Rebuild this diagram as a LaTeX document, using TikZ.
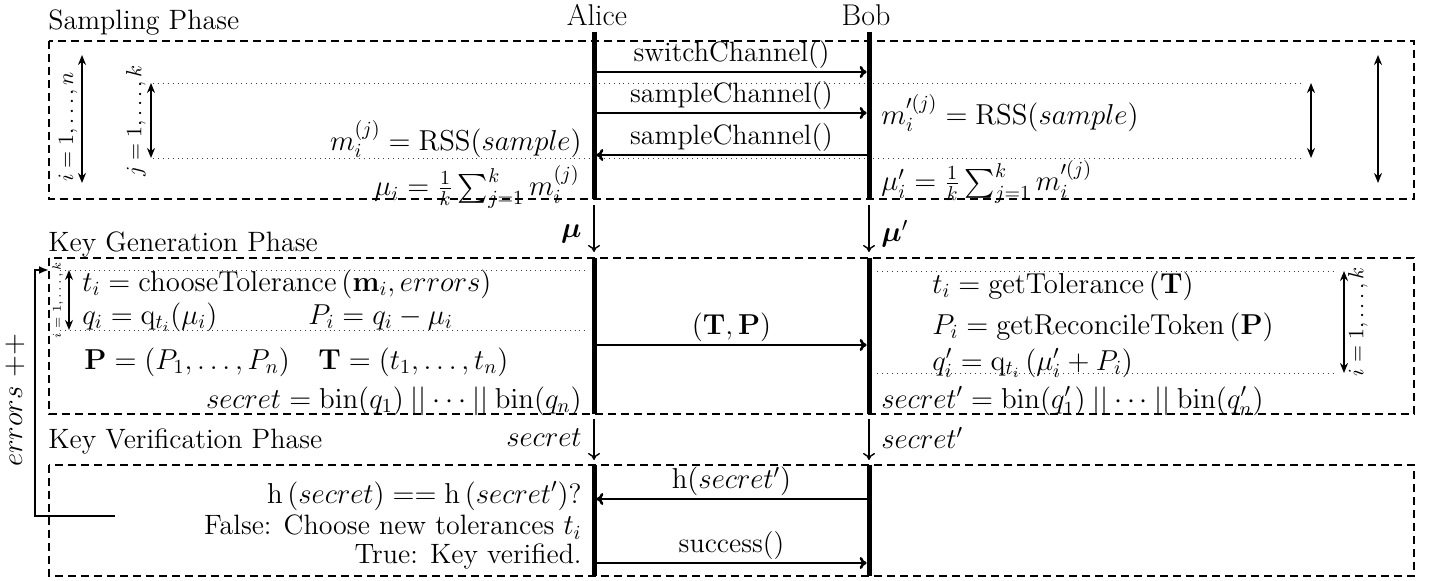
\documentclass[tikz,border=0pt]{standalone}
\usepackage{amsmath}
\usepackage{bm}
\usetikzlibrary{arrows.meta}
\begin{document}
\begin{tikzpicture}[x=0.5pt,y=-0.5pt,
  every node/.style={font=\fontsize{14}{16}\selectfont, inner sep=0pt},
  actor/.style={font=\fontsize{15}{17}\selectfont, anchor=base},
  phaselabel/.style={anchor=base west},
  phasebox/.style={draw, line width=1pt, dash pattern=on 4pt off 2.5pt},
  lifeline/.style={line width=2.5pt},
  msg/.style={line width=1.3pt, -{To[length=3.5pt,width=6pt]}, shorten >=1.2pt},
  flow/.style={line width=0.7pt, -{To[length=3.5pt,width=6pt]}},
  span/.style={line width=1pt, {Stealth[length=5pt,width=4pt]}-{Stealth[length=5pt,width=4pt]}},
  guide/.style={dotted, line width=0.45pt, black!75},
  idxlabel/.style={rotate=90, font=\fontsize{10.5}{12}\selectfont},
  tinylabel/.style={rotate=90, font=\fontsize{6}{7}\selectfont},
  loopline/.style={line width=1pt, -{Latex[length=5pt,width=4pt]}}
]
\useasboundingbox (0,0) rectangle (1429,581);

% ---------- actors ----------
\node[actor] (alice) at (597,26) {Alice};
\node[actor] (bob) at (866,26) {Bob};

% ---------- phase labels ----------
\node[phaselabel] (ph1) at (48,30) {Sampling Phase};
\node[phaselabel] (ph2) at (48,252) {Key Generation Phase};
\node[phaselabel] (ph3) at (48,449) {Key Verification Phase};

% ---------- phase boxes ----------
\coordinate (b1nw) at (49,41);  \coordinate (b1se) at (1414,199);
\coordinate (b2nw) at (49,258); \coordinate (b2se) at (1414,414);
\coordinate (b3nw) at (49,465); \coordinate (b3se) at (1414,576);
\draw[phasebox] (b1nw) rectangle (b1se);
\draw[phasebox] (b2nw) rectangle (b2se);
\draw[phasebox] (b3nw) rectangle (b3se);

% ---------- dotted guides ----------
\coordinate (g1l) at (153,83);  \coordinate (g1r) at (1303,83);
\coordinate (g2l) at (153,158); \coordinate (g2r) at (1303,158);
\draw[guide] (g1l) -- (g1r);
\draw[guide] (g2l) -- (g2r);
\coordinate (g3l) at (60,270);  \coordinate (g3r) at (588,270);
\coordinate (g4l) at (60,330);  \coordinate (g4r) at (588,330);
\draw[guide] (g3l) -- (g3r);
\draw[guide] (g4l) -- (g4r);
\coordinate (g5l) at (877,271); \coordinate (g5r) at (1336,271);
\coordinate (g6l) at (877,373); \coordinate (g6r) at (1336,373);
\draw[guide] (g5l) -- (g5r);
\draw[guide] (g6l) -- (g6r);

% ---------- index spans ----------
\coordinate (s1t) at (82,55);   \coordinate (s1b) at (82,183);
\draw[span] (s1t) -- (s1b);
\node[idxlabel] (s1lab) at (68,127) {$i = 1,\ldots,n$};
\coordinate (s2t) at (151,83);  \coordinate (s2b) at (151,158);
\draw[span] (s2t) -- (s2b);
\node[idxlabel] (s2lab) at (136,121) {$j = 1,\ldots,k$};
\coordinate (s3t) at (1311,83); \coordinate (s3b) at (1311,158);
\draw[span] (s3t) -- (s3b);
\coordinate (s4t) at (1378,55); \coordinate (s4b) at (1378,183);
\draw[span] (s4t) -- (s4b);
\coordinate (s5t) at (69,270);  \coordinate (s5b) at (69,330);
\draw[span] (s5t) -- (s5b);
\node[tinylabel] (s5lab) at (58,300) {$i = 1,\ldots,k$};
\coordinate (s6t) at (1344,271); \coordinate (s6b) at (1344,373);
\draw[span] (s6t) -- (s6b);
\node[idxlabel] (s6lab) at (1358,322) {$i = 1,\ldots,k$};

% ---------- messages ----------
\coordinate (m1a) at (594,72);  \coordinate (m1b) at (869,72);
\coordinate (m2a) at (594,113); \coordinate (m2b) at (869,113);
\coordinate (m3a) at (594,155); \coordinate (m3b) at (869,155);
\coordinate (m4a) at (594,345); \coordinate (m4b) at (869,345);
\coordinate (m5a) at (594,499); \coordinate (m5b) at (869,499);
\coordinate (m6a) at (594,563); \coordinate (m6b) at (869,563);
\draw[msg] (m1a) -- (m1b) node[midway,above=1pt] (l1) {switchChannel()};
\draw[msg] (m2a) -- (m2b) node[midway,above=1pt] (l2) {sampleChannel()};
\draw[msg] (m3b) -- (m3a) node[midway,above=1pt] (l3) {sampleChannel()};
\draw[msg] (m4a) -- (m4b) node[midway,above=1pt] (l4) {$(\mathbf{T},\mathbf{P})$};
\draw[msg] (m5b) -- (m5a) node[midway,above=1pt] (l5) {$\mathrm{h}(secret')$};
\draw[msg] (m6a) -- (m6b) node[midway,above=1pt] (l6) {success()};

% ---------- flows between phases ----------
\coordinate (f1s) at (594,205); \coordinate (f1e) at (594,252);
\coordinate (f2s) at (869,205); \coordinate (f2e) at (869,252);
\coordinate (f3s) at (594,419); \coordinate (f3e) at (594,460);
\coordinate (f4s) at (869,419); \coordinate (f4e) at (869,460);
\draw[flow] (f1s) -- (f1e);
\draw[flow] (f2s) -- (f2e);
\draw[flow] (f3s) -- (f3e);
\draw[flow] (f4s) -- (f4e);
\node[anchor=east] (mu) at (582,234) {$\boldsymbol{\mu}$};
\node[anchor=west] (mup) at (881,234) {$\boldsymbol{\mu}'$};
\node[anchor=east] (sec) at (582,438) {$secret$};
\node[anchor=west] (secp) at (881,438) {$secret'$};

% ---------- lifelines ----------
\coordinate (A0) at (594,32);  \coordinate (A1) at (594,199);
\coordinate (A2) at (594,258); \coordinate (A3) at (594,414);
\coordinate (A4) at (594,465); \coordinate (A5) at (594,576);
\coordinate (B0) at (869,32);  \coordinate (B1) at (869,199);
\coordinate (B2) at (869,258); \coordinate (B3) at (869,414);
\coordinate (B4) at (869,465); \coordinate (B5) at (869,576);
\draw[lifeline] (A0) -- (A1);
\draw[lifeline] (A2) -- (A3);
\draw[lifeline] (A4) -- (A5);
\draw[lifeline] (B0) -- (B1);
\draw[lifeline] (B2) -- (B3);
\draw[lifeline] (B4) -- (B5);

% ---------- sampling phase text ----------
\node[anchor=east] (ma) at (582,139) {$m_i^{(j)} = \mathrm{RSS}(sample)$};
\node[anchor=east] (mua) at (580,187) {$\mu_i = \frac{1}{k}\sum_{j=1}^{k} m_i^{(j)}$};
\node[anchor=west] (mb) at (881,113) {$m_i'^{(j)} = \mathrm{RSS}(sample)$};
\node[anchor=west] (mub) at (881,182) {$\mu_i' = \frac{1}{k}\sum_{j=1}^{k} m_i'^{(j)}$};

% ---------- key generation text ----------
\node[anchor=west] (ta) at (82,284) {$t_i = \mathrm{chooseTolerance}\left(\mathbf{m}_i, errors\right)$};
\node[anchor=west] (qa) at (82,317) {$q_i = \mathrm{q}_{t_i}(\mu_i)$};
\node[anchor=west] (pa) at (308,317) {$P_i = q_i - \mu_i$};
\node[anchor=west] (pv) at (84,362) {$\mathbf{P} = (P_1,\ldots,P_n)$};
\node[anchor=west] (tv) at (318,362) {$\mathbf{T} = (t_1,\ldots,t_n)$};
\node[anchor=east] (seca) at (582,401) {$secret = \mathrm{bin}(q_1) \mathbin{||} \cdots \mathbin{||} \mathrm{bin}(q_n)$};
\node[anchor=west] (tb) at (932,286) {$t_i = \mathrm{getTolerance}\left(\mathbf{T}\right)$};
\node[anchor=west] (pb) at (932,327) {$P_i = \mathrm{getReconcileToken}\left(\mathbf{P}\right)$};
\node[anchor=west] (qb) at (932,363) {$q_i' = \mathrm{q}_{t_i}\left(\mu_i' + P_i\right)$};
\node[anchor=west] (secb) at (881,401) {$secret' = \mathrm{bin}(q_1') \mathbin{||} \cdots \mathbin{||} \mathrm{bin}(q_n')$};

% ---------- key verification text ----------
\node[anchor=east] (cmp) at (582,496) {$\mathrm{h}\left(secret\right) == \mathrm{h}\left(secret'\right)$?};
\node[anchor=east] (fls) at (582,527) {False: Choose new tolerances $t_i$};
\node[anchor=east] (tru) at (582,557) {True: Key verified.};

% ---------- retry loop ----------
\coordinate (lp0) at (115,516); \coordinate (lp1) at (35,516);
\coordinate (lp2) at (35,270);  \coordinate (lp3) at (49,270);
\draw[loopline] (lp0) -- (lp1) -- (lp2) -- (lp3);
\node[rotate=90] (err) at (15,400) {$errors\ {+}{+}$};

\end{tikzpicture}
\end{document}
